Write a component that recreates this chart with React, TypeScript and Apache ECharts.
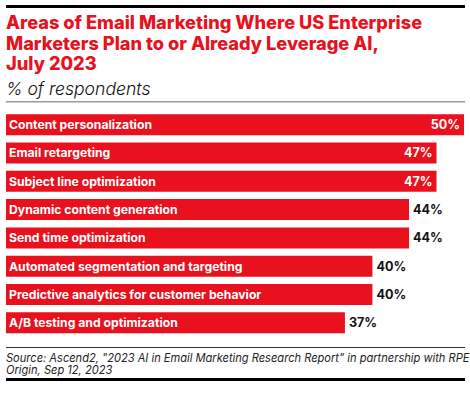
import React, { useEffect, useRef } from "react";
import * as echarts from "echarts";

const categories = [
  "Content personalization",
  "Email retargeting",
  "Subject line optimization",
  "Dynamic content generation",
  "Send time optimization",
  "Automated segmentation and targeting",
  "Predictive analytics for customer behavior",
  "A/B testing and optimization",
];
const values = [50, 47, 47, 44, 44, 40, 40, 37];
const titleLines = [
  "Areas of Email Marketing Where US Enterprise",
  "Marketers Plan to or Already Leverage AI,",
  "July 2023",
];
const subtitle = "% of respondents";
const sourceLines = [
  "Source: Ascend2, \"2023 AI in Email Marketing Research Report\" in partnership with RPE",
  "Origin, Sep 12, 2023",
];

const RED = "#e8111d";
const FONT = "Inter";

export default function App() {
  const ref = useRef<HTMLDivElement>(null);
  useEffect(() => {
    document.body.style.margin = "0";
    const chart = echarts.init(ref.current!, undefined, { renderer: "svg" });
    const max = 50;
    chart.setOption({
      animation: false,
      backgroundColor: "#ffffff",
      grid: { left: 6, right: 6, top: 110.5, bottom: 62, containLabel: false },
      xAxis: { type: "value", min: 0, max, show: false },
      yAxis: {
        type: "category",
        data: categories,
        inverse: true,
        show: false,
      },
      graphic: [
        { type: "rect", shape: { x: 6, y: 5, width: 459, height: 3 }, style: { fill: "#000" } },
        ...titleLines.map((t, i) => ({
          type: "text",
          x: 6,
          y: 22 + i * 20.7,
          style: {
            text: t,
            fill: RED,
            font: `800 18.2px ${FONT}`,
            textVerticalAlign: "middle",
          },
        })),
        {
          type: "text",
          x: 6,
          y: 88,
          style: {
            text: subtitle,
            fill: "#111",
            font: `italic 300 17.6px ${FONT}`,
            textVerticalAlign: "middle",
          },
        },
        { type: "rect", shape: { x: 6, y: 101, width: 459, height: 1.5 }, style: { fill: "#9a9a9a" } },
        { type: "rect", shape: { x: 6, y: 347, width: 459, height: 1 }, style: { fill: "#333" } },
        ...sourceLines.map((t, i) => ({
          type: "text",
          x: 6,
          y: 357.5 + i * 12.5,
          style: {
            text: t,
            fill: "#222",
            font: `italic 11.1px ${FONT}`,
            textVerticalAlign: "middle",
          },
        })),
        { type: "rect", shape: { x: 6, y: 378, width: 459, height: 3 }, style: { fill: "#000" } },
      ],
      series: [
        {
          type: "bar",
          data: values,
          barCategoryGap: "26%",
          itemStyle: { color: RED },
          label: {
            show: true,
            position: "insideLeft",
            distance: 3,
            formatter: (p: any) => p.name,
            color: "#fff",
            fontFamily: FONT,
            fontWeight: "bold",
            fontSize: 12.2,
          },
        },
        {
          type: "bar",
          barGap: "-100%",
          barCategoryGap: "26%",
          data: values.map((v) => ({
            value: v,
            label:
              v >= 47
                ? { position: "insideRight", color: "#fff", distance: 4 }
                : { position: "right", color: "#111", distance: 4 },
          })),
          itemStyle: { color: "transparent" },
          label: {
            show: true,
            formatter: (p: any) => `${p.value}%`,
            fontFamily: FONT,
            fontWeight: "bold",
            fontSize: 12.6,
          },
          z: 3,
        },
      ],
    });
    return () => chart.dispose();
  }, []);
  return (
    <div
      ref={ref}
      style={{ position: "absolute", left: 0, top: 0, width: 470, height: 399 }}
    />
  );
}
